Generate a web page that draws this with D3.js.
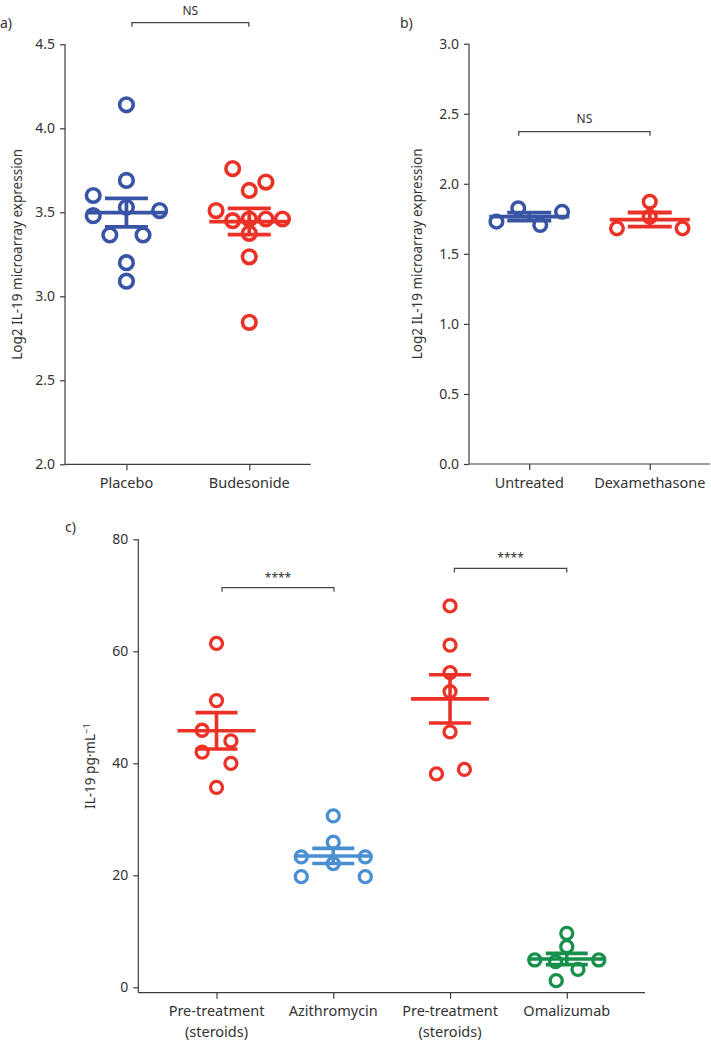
<!DOCTYPE html>
<html><head><meta charset="utf-8">
<script src="https://cdn.jsdelivr.net/npm/d3@7"></script>
<style>
body{margin:0;background:#fff}
svg{display:block}
text{font-family:"Noto Sans",sans-serif;fill:#333}
</style></head>
<body><svg id="chart" width="711" height="1041"></svg>
<script>
// ---------- DATA ----------
// Panel a
const aCategories = ["Placebo", "Budesonide"];
const aPlaceboValues = [4.14, 3.69, 3.60, 3.53, 3.48, 3.51, 3.365, 3.365, 3.20, 3.09];
const aPlaceboSlots  = [0, 0, -2, 0, -2, 2, -1, 1, 0, 0];
const aBudesonideValues = [3.76, 3.68, 3.63, 3.51, 3.45, 3.46, 3.46, 3.46, 3.375, 3.235, 2.845];
const aBudesonideSlots  = [-1, 1, 0, -2, -1, 0, 1, 2, 0, 0, 0];
const aMeans = [3.498, 3.445];
const aSems = [0.085, 0.078];
const aTicks = [2.0, 2.5, 3.0, 3.5, 4.0, 4.5];

// Panel b
const bCategories = ["Untreated", "Dexamethasone"];
const bUntreatedValues = [1.73, 1.826, 1.706, 1.80];
const bUntreatedSlots  = [-2, -0.67, 0.67, 2];
const bDexValues = [1.682, 1.872, 1.765, 1.682];
const bDexSlots  = [-2, 0, 0, 2];
const bMeans = [1.766, 1.745];
const bSems = [0.028, 0.05];
const bTicks = [0.0, 0.5, 1.0, 1.5, 2.0, 2.5, 3.0];

// Panel c
const cCategories = ["Pre-treatment\n(steroids)", "Azithromycin", "Pre-treatment\n(steroids)", "Omalizumab"];
const cPre1Values = [61.4, 51.2, 45.9, 44.0, 42.0, 40.0, 35.7];
const cPre1Slots  = [0, 0, -0.9, 0.9, -0.9, 0.9, 0];
const cAzithroValues = [30.6, 25.9, 23.3, 23.3, 22.1, 19.75, 19.75];
const cAzithroSlots  = [0, 0, -2, 2, 0, -2, 2];
const cPre2Values = [68.1, 61.1, 56.2, 52.8, 45.6, 38.1, 38.9];
const cPre2Slots  = [0, 0, 0, 0, 0, -0.85, 0.9];
const cOmaValues = [9.64, 7.25, 4.88, 4.57, 4.88, 3.2, 1.18];
const cOmaSlots  = [0, 0, -2, -0.7, 2, 0.7, -0.66];
const cMeans = [45.8, 23.45, 51.5, 5.05];
const cSems = [3.25, 1.35, 4.3, 1.0];
const cTicks = [0, 20, 40, 60, 80];

// ---------- STYLE ----------
const RED = "#ec3127", DBLUE = "#3a54a5", LBLUE = "#4a8fd2", GREEN = "#16904a";
const AXIS = "#3d3d3d";

const svg = d3.select("#chart");

function drawPanel(o) {
  const g = svg.append("g");
  const x = d3.scalePoint().domain(d3.range(o.cats.length)).range(o.xr).padding(o.pad);
  const y = d3.scaleLinear().domain(o.ydom).range(o.yr);
  const axisY = o.xAxisY;

  // y axis
  const ya = g.append("g").attr("transform", `translate(${o.xr[0]},0)`)
    .call(d3.axisLeft(y).tickValues(o.ticks).tickFormat(o.fmt).tickSize(5).tickPadding(5).tickSizeOuter(0));
  ya.select(".domain").remove();
  ya.selectAll(".tick line").attr("stroke", AXIS).attr("stroke-width", 1.2);
  ya.selectAll(".tick text").attr("font-size", 14).attr("fill", "#333").style("font-family", "Noto Sans");
  g.append("line").attr("x1", o.xr[0]).attr("x2", o.xr[0])
    .attr("y1", y(o.ydom[1])).attr("y2", axisY).attr("stroke", AXIS).attr("stroke-width", 1.2);

  // x axis
  const xa = g.append("g").attr("transform", `translate(0,${axisY})`)
    .call(d3.axisBottom(x).tickSize(6).tickSizeOuter(0).tickFormat(""));
  xa.select(".domain").remove();
  xa.selectAll(".tick line").attr("stroke", AXIS).attr("stroke-width", 1.2);
  g.append("line").attr("x1", o.xr[0]).attr("x2", o.xr[1])
    .attr("y1", axisY).attr("y2", axisY).attr("stroke", AXIS).attr("stroke-width", 1.2);

  o.cats.forEach((c, i) => {
    const t = g.append("text").attr("x", x(i)).attr("text-anchor", "middle").attr("font-size", 14.5);
    c.split("\n").forEach((line, k) => {
      t.append("tspan").attr("x", x(i)).attr("y", axisY + o.labelDy + k * 21).text(line);
    });
  });

  // y label
  const ymid = (y(o.ydom[1]) + axisY) / 2;
  const yl = g.append("text").attr("transform", `translate(${o.ylabX},${ymid}) rotate(-90)`)
    .attr("text-anchor", "middle").attr("font-size", 13.5);
  yl.append("tspan").text(o.ylabel);
  if (o.ysup) yl.append("tspan").attr("dy", -5).attr("font-size", 9.5).text(o.ysup);

  // groups
  o.groups.forEach((grp, i) => {
    const cx = x(i);
    g.append("g").selectAll("circle").data(grp.values).join("circle")
      .attr("cx", (d, k) => cx + grp.slots[k] * o.spacing)
      .attr("cy", d => y(d))
      .attr("r", o.r).attr("fill", "none").attr("stroke", grp.color).attr("stroke-width", o.sw);
    const m = o.means[i], s = o.sems[i];
    const lg = g.append("g").attr("stroke", grp.color).attr("stroke-width", o.lw);
    lg.append("line").attr("x1", cx - o.meanHalf).attr("x2", cx + o.meanHalf).attr("y1", y(m)).attr("y2", y(m));
    lg.append("line").attr("x1", cx - o.semHalf).attr("x2", cx + o.semHalf).attr("y1", y(m + s)).attr("y2", y(m + s));
    lg.append("line").attr("x1", cx - o.semHalf).attr("x2", cx + o.semHalf).attr("y1", y(m - s)).attr("y2", y(m - s));
    lg.append("line").attr("x1", cx).attr("x2", cx).attr("y1", y(m + s)).attr("y2", y(m - s));
  });

  // significance brackets
  o.brackets.forEach(b => {
    const x1 = x(b.from) + b.dx1, x2 = x(b.to) + b.dx2, yy = y(b.y);
    g.append("path").attr("d", `M${x1},${yy + 4}V${yy}H${x2}V${yy + 4}`)
      .attr("fill", "none").attr("stroke", "#444").attr("stroke-width", 1.2);
    g.append("text").attr("x", (x1 + x2) / 2).attr("y", yy - b.ty).attr("text-anchor", "middle")
      .attr("font-size", b.fs).attr("fill", "#333").text(b.label);
  });

  // panel letter
  svg.append("text").attr("x", o.letterX).attr("y", o.letterY).attr("font-size", 14).text(o.letter);
}

drawPanel({
  cats: aCategories, xr: [65, 310.7], pad: 0.5, ydom: [2, 4.5], yr: [464.3, 44.3], xAxisY: 464.3,
  ticks: aTicks, fmt: d3.format(".1f"), labelDy: 24, ylabX: 22, ylabel: "Log2 IL-19 microarray expression",
  groups: [
    {values: aPlaceboValues, slots: aPlaceboSlots, color: DBLUE},
    {values: aBudesonideValues, slots: aBudesonideSlots, color: RED}
  ],
  means: aMeans, sems: aSems, spacing: 16.6, r: 6.8, sw: 3.6, lw: 3.8, meanHalf: 40, semHalf: 21.5,
  brackets: [{from: 0, to: 1, dx1: 5.5, dx2: -0.5, y: 4.629, label: "NS", ty: 8, fs: 12}],
  letter: "a)", letterX: 0, letterY: 28
});

drawPanel({
  cats: bCategories, xr: [469, 710], pad: 0.5, ydom: [0, 3], yr: [464, 43.7], xAxisY: 464,
  ticks: bTicks, fmt: d3.format(".1f"), labelDy: 24, ylabX: 422, ylabel: "Log2 IL-19 microarray expression",
  groups: [
    {values: bUntreatedValues, slots: bUntreatedSlots, color: DBLUE},
    {values: bDexValues, slots: bDexSlots, color: RED}
  ],
  means: bMeans, sems: bSems, spacing: 16.4, r: 6.3, sw: 3.5, lw: 3.8, meanHalf: 40, semHalf: 22,
  brackets: [{from: 0, to: 1, dx1: -10.5, dx2: 0.3, y: 2.372, label: "NS", ty: 9, fs: 12}],
  letter: "b)", letterX: 400, letterY: 28
});

drawPanel({
  cats: cCategories, xr: [138.3, 645], pad: 0.67, ydom: [0, 80], yr: [987.3, 539.3], xAxisY: 992.7,
  ticks: cTicks, fmt: d3.format("d"), labelDy: 23, ylabX: 95, ylabel: "IL-19  pg·mL", ysup: "−1",
  groups: [
    {values: cPre1Values, slots: cPre1Slots, color: RED},
    {values: cAzithroValues, slots: cAzithroSlots, color: LBLUE},
    {values: cPre2Values, slots: cPre2Slots, color: RED},
    {values: cOmaValues, slots: cOmaSlots, color: GREEN}
  ],
  means: cMeans, sems: cSems, spacing: 16, r: 6, sw: 3.3, lw: 3.6, meanHalf: 39, semHalf: 21,
  brackets: [
    {from: 0, to: 1, dx1: 5.5, dx2: 0.7, y: 71.36, label: "****", ty: 6, fs: 12},
    {from: 2, to: 3, dx1: 4.3, dx2: 0, y: 74.8, label: "****", ty: 6, fs: 12}
  ],
  letter: "c)", letterX: 65, letterY: 532
});
</script></body></html>
